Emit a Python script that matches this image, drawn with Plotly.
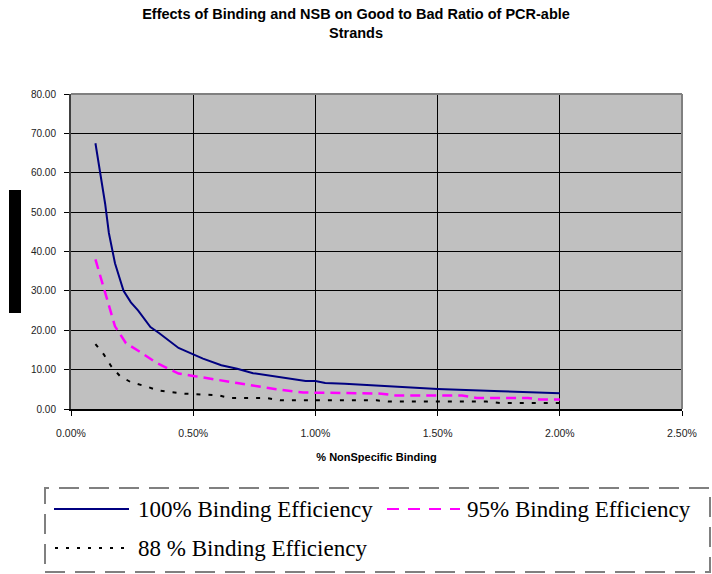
import plotly.graph_objects as go

# % non-specific binding (x) and good/bad ratio (y) for each binding efficiency
nsb_100 = [0.10, 0.12, 0.14, 0.155, 0.18, 0.215, 0.245, 0.275, 0.325, 0.36, 0.44, 0.47,
           0.54, 0.615, 0.68, 0.745, 0.855, 0.94, 0.96, 1.00, 1.04, 1.12, 1.50, 1.76, 2.00]
ratio_100 = [67.5, 59.5, 52.0, 44.7, 37.0, 30.0, 27.1, 25.0, 20.8, 19.3, 15.5, 14.7,
             12.8, 11.1, 10.2, 9.1, 8.0, 7.3, 7.1, 7.1, 6.6, 6.4, 5.1, 4.5, 4.0]

nsb_95 = [0.10, 0.125, 0.155, 0.18, 0.225, 0.28, 0.35, 0.44, 0.50, 0.61, 0.68, 0.84,
          0.95, 1.27, 1.33, 1.60, 1.66, 1.87, 1.92, 2.00]
ratio_95 = [38.0, 32.5, 26.0, 21.0, 16.7, 14.6, 11.7, 9.0, 8.4, 7.4, 6.6, 5.0,
            4.2, 3.9, 3.4, 3.4, 2.8, 2.8, 2.4, 2.4]

nsb_88 = [0.10, 0.135, 0.165, 0.20, 0.245, 0.31, 0.355, 0.46, 0.60, 0.65, 0.80, 0.855,
          1.25, 1.30, 1.70, 1.76, 2.00]
ratio_88 = [16.5, 13.8, 10.8, 8.4, 6.8, 5.7, 4.7, 3.9, 3.5, 2.8, 2.8, 2.2,
            2.2, 1.9, 1.9, 1.5, 1.5]

series_names = ["100% Binding Efficiency", "95% Binding Efficiency", "88 % Binding Efficiency"]
title_text = "Effects of Binding and NSB on Good to Bad Ratio of PCR-able<br>Strands"
x_title = "% NonSpecific Binding"

W, H = 712, 574
L, R, T, B = 71, 30, 94, 165
PW, PH = W - L - R, H - T - B


def px(x):
    return (x - L) / PW


def py(y):
    return (H - B - y) / PH


styles = [
    dict(color="#000080", width=2, dash="solid"),
    dict(color="#FF00FF", width=2.5, dash="10px,6px"),
    dict(color="#000000", width=2, dash="4px,8px"),
]

fig = go.Figure()
for xs, ys, name, st in zip([nsb_100, nsb_95, nsb_88], [ratio_100, ratio_95, ratio_88],
                            series_names, styles):
    fig.add_trace(go.Scatter(x=xs, y=ys, mode="lines", name=name, line=st,
                             showlegend=False))

shapes = []
annotations = []

# y-axis title block
shapes.append(dict(type="rect", xref="paper", yref="paper",
                   x0=px(9), x1=px(21), y0=py(313), y1=py(190),
                   fillcolor="#000000", line=dict(width=0)))

# legend frame
shapes.append(dict(type="rect", xref="paper", yref="paper",
                   x0=px(45), x1=px(710), y0=py(572), y1=py(488),
                   line=dict(color="#808080", width=2, dash="20px,10px")))

legend_items = [
    (series_names[0], 54, 129, 136, 509, dict(color="#000080", width=2, dash="solid")),
    (series_names[1], 387, 460, 465, 509, dict(color="#FF00FF", width=2, dash="12px,9px")),
    (series_names[2], 55, 127, 136, 548, dict(color="#000000", width=2, dash="3px,8px")),
]
for name, x0, x1, xt, yc, st in legend_items:
    shapes.append(dict(type="line", xref="paper", yref="paper",
                       x0=px(x0), x1=px(x1), y0=py(yc), y1=py(yc), line=st))
    annotations.append(dict(text=name, xref="paper", yref="paper", x=px(xt), y=py(yc),
                            xanchor="left", yanchor="middle", showarrow=False,
                            font=dict(family="Liberation Serif", size=23, color="#000000")))

fig.update_layout(
    width=W, height=H,
    margin=dict(l=L, r=R, t=T, b=B),
    paper_bgcolor="#FFFFFF",
    plot_bgcolor="#C0C0C0",
    title=dict(text=title_text, x=0.5, xref="container", xanchor="center",
               y=1 - 19 / H, yanchor="top",
               font=dict(family="Liberation Sans", size=14.5, color="#000000",
                         weight="bold")),
    xaxis=dict(range=[0, 2.5], dtick=0.5, tick0=0, tickformat=".2f", ticksuffix="%",
               showgrid=True, gridcolor="#000000", gridwidth=1,
               zeroline=False, showline=True, linecolor="#000000", linewidth=2,
               mirror=False, ticks="outside", ticklen=5, tickcolor="#000000",
               ticklabelstandoff=8,
               tickfont=dict(family="Liberation Sans", size=10.5, color="#222222"),
               title=dict(text=x_title, standoff=16,
                          font=dict(family="Liberation Sans", size=11, color="#000000",
                                    weight="bold"))),
    yaxis=dict(range=[0, 80], dtick=10, tick0=0, tickformat=".2f",
               showgrid=True, gridcolor="#000000", gridwidth=1,
               zeroline=False, showline=True, linecolor="#404040", linewidth=2,
               ticks="outside", ticklen=5, tickcolor="#000000",
               ticklabelstandoff=6,
               tickfont=dict(family="Liberation Sans", size=10, color="#222222")),
    shapes=shapes,
    annotations=annotations,
)

# plot-area border on the top and right edges
fig.add_shape(type="line", xref="paper", yref="paper", x0=0, x1=1, y0=1, y1=1,
              line=dict(color="#808080", width=2))
fig.add_shape(type="line", xref="paper", yref="paper", x0=1, x1=1, y0=0, y1=1,
              line=dict(color="#808080", width=2))

fig.write_html("out.html")
